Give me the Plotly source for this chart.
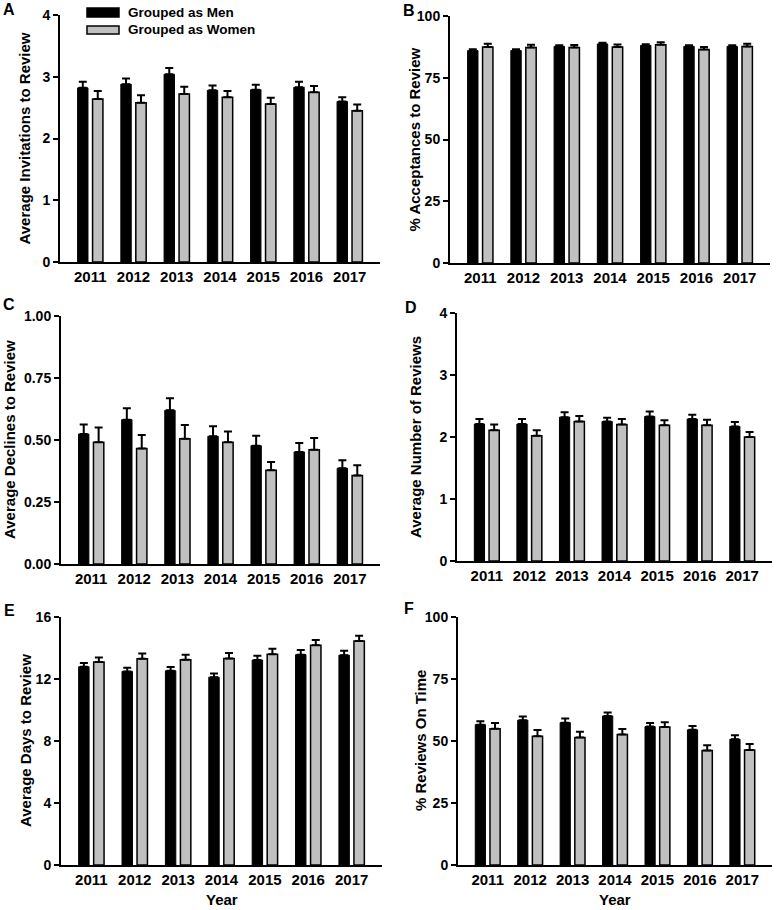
import plotly.graph_objects as go

years = ["2011", "2012", "2013", "2014", "2015", "2016", "2017"]

# A: Average invitations to review
inv_men = [2.82, 2.88, 3.04, 2.78, 2.79, 2.83, 2.60]
inv_men_err = [0.10, 0.09, 0.10, 0.08, 0.08, 0.09, 0.07]
inv_women = [2.64, 2.58, 2.72, 2.67, 2.56, 2.75, 2.45]
inv_women_err = [0.13, 0.12, 0.12, 0.10, 0.10, 0.10, 0.10]

# B: % acceptances to review
acc_men = [86.0, 86.0, 87.7, 88.7, 88.1, 87.7, 87.7]
acc_men_err = [0.5, 0.5, 0.5, 0.5, 0.5, 0.5, 0.5]
acc_women = [87.5, 87.2, 87.2, 87.5, 88.4, 86.4, 87.7]
acc_women_err = [1.3, 1.2, 1.1, 1.0, 1.0, 1.0, 1.1]

# C: Average declines to review
dec_men = [0.524, 0.582, 0.620, 0.515, 0.477, 0.452, 0.386]
dec_men_err = [0.038, 0.046, 0.048, 0.040, 0.040, 0.036, 0.032]
dec_women = [0.491, 0.466, 0.505, 0.491, 0.378, 0.461, 0.357]
dec_women_err = [0.059, 0.054, 0.055, 0.043, 0.033, 0.047, 0.041]

# D: Average number of reviews
rev_men = [2.21, 2.21, 2.32, 2.25, 2.33, 2.29, 2.17]
rev_men_err = [0.08, 0.08, 0.08, 0.06, 0.08, 0.07, 0.07]
rev_women = [2.11, 2.02, 2.25, 2.20, 2.19, 2.19, 2.00]
rev_women_err = [0.09, 0.09, 0.09, 0.09, 0.08, 0.09, 0.08]

# E: Average days to review
days_men = [12.79, 12.49, 12.53, 12.12, 13.22, 13.57, 13.54]
days_men_err = [0.24, 0.24, 0.24, 0.24, 0.28, 0.30, 0.28]
days_women = [13.09, 13.31, 13.24, 13.33, 13.59, 14.17, 14.45]
days_women_err = [0.30, 0.34, 0.33, 0.34, 0.36, 0.34, 0.34]

# F: % reviews on time
ontime_men = [56.6, 58.4, 57.4, 60.1, 55.8, 54.5, 50.7]
ontime_men_err = [1.4, 1.5, 1.7, 1.4, 1.5, 1.5, 1.6]
ontime_women = [54.9, 51.9, 51.4, 52.6, 55.6, 46.2, 46.4]
ontime_women_err = [2.4, 2.5, 2.3, 2.2, 2.0, 2.1, 2.4]

series_names = ["Grouped as Men", "Grouped as Women"]
y_titles = ["Average Invitations to Review", "% Acceptances to Review",
            "Average Declines to Review", "Average Number of Reviews",
            "Average Days to Review", "% Reviews On Time"]
panel_letters = ["A", "B", "C", "D", "E", "F"]

W, H = 780, 910
FONT = "Liberation Sans, Arial, sans-serif"
GRAY = "#c0c0c0"

def px(x):
    return x / W

def py(y):
    return 1 - y / H

panels = [
    dict(men=inv_men, men_err=inv_men_err, women=inv_women, women_err=inv_women_err,
         yrange=[0, 4], dtick=1, fmt="", xpix=(60, 380), ypix=(15, 262),
         tx=24, letter=(9, 10)),
    dict(men=acc_men, men_err=acc_men_err, women=acc_women, women_err=acc_women_err,
         yrange=[0, 100], dtick=25, fmt="", xpix=(450, 770), ypix=(16, 263),
         tx=414, letter=(409, 11)),
    dict(men=dec_men, men_err=dec_men_err, women=dec_women, women_err=dec_women_err,
         yrange=[0, 1], dtick=0.25, fmt=".2f", xpix=(61, 380), ypix=(316, 564),
         tx=9, letter=(9, 305)),
    dict(men=rev_men, men_err=rev_men_err, women=rev_women, women_err=rev_women_err,
         yrange=[0, 4], dtick=1, fmt="", xpix=(457, 772), ypix=(313, 561),
         tx=415, letter=(411, 307)),
    dict(men=days_men, men_err=days_men_err, women=days_women, women_err=days_women_err,
         yrange=[0, 16], dtick=4, fmt="", xpix=(61, 382), ypix=(617, 865),
         tx=25, letter=(9, 610)),
    dict(men=ontime_men, men_err=ontime_men_err, women=ontime_women, women_err=ontime_women_err,
         yrange=[0, 100], dtick=25, fmt="", xpix=(458, 772), ypix=(617, 865),
         tx=420, letter=(409, 608)),
]

fig = go.Figure()
annotations = []
layout = {}
xpos = list(range(len(years)))
BW = 0.24
SEP = 0.173

for i, p in enumerate(panels):
    n = i + 1
    xa = "x" if n == 1 else f"x{n}"
    ya = "y" if n == 1 else f"y{n}"
    for vals, errs, color, lw, off, name in [
        (p["men"], p["men_err"], "black", 1, -SEP - BW / 2, series_names[0]),
        (p["women"], p["women_err"], GRAY, 1.5, SEP - BW / 2, series_names[1]),
    ]:
        fig.add_trace(go.Bar(
            x=xpos, y=vals, width=BW, offset=off, name=name,
            marker=dict(color=color, line=dict(color="black", width=lw)),
            error_y=dict(type="data", symmetric=False, array=errs,
                         arrayminus=[0] * len(errs), color="black",
                         thickness=2, width=4),
            xaxis=xa, yaxis=ya, showlegend=False,
        ))
    x0, x1 = p["xpix"]
    y0, y1 = p["ypix"]
    layout[f"xaxis{'' if n == 1 else n}"] = dict(
        domain=[px(x0), px(x1)], anchor=ya, range=[-0.7, 6.7],
        tickvals=xpos, ticktext=years, ticks="", showline=True,
        linecolor="black", linewidth=2, showgrid=False, zeroline=False,
        tickfont=dict(family=FONT, size=15, color="black", weight="bold"),
        fixedrange=True, automargin=False,
    )
    layout[f"yaxis{'' if n == 1 else n}"] = dict(
        domain=[py(y1), py(y0)], anchor=xa, range=p["yrange"], dtick=p["dtick"],
        tick0=0, tickformat=p["fmt"], ticks="outside", ticklen=5, tickwidth=2,
        tickcolor="black", showline=True, linecolor="black", linewidth=2,
        showgrid=False, zeroline=False,
        tickfont=dict(family=FONT, size=14, color="black", weight="bold"),
        fixedrange=True, automargin=False,
    )
    annotations.append(dict(
        text=y_titles[i], x=px(p["tx"]), y=py((y0 + y1) / 2), xref="paper",
        yref="paper", showarrow=False, textangle=-90, xanchor="center",
        yanchor="middle", font=dict(family=FONT, size=15, color="black", weight="bold"),
    ))
    lx, ly = p["letter"]
    annotations.append(dict(
        text=panel_letters[i], x=px(lx), y=py(ly), xref="paper", yref="paper",
        showarrow=False, xanchor="center", yanchor="middle",
        font=dict(family=FONT, size=16, color="black", weight="bold"),
    ))

# x-axis "Year" titles for bottom panels
for cx in [(61 + 382) / 2, (458 + 772) / 2]:
    annotations.append(dict(
        text="Year", x=px(cx), y=py(899), xref="paper", yref="paper",
        showarrow=False, xanchor="center", yanchor="middle",
        font=dict(family=FONT, size=15, color="black", weight="bold"),
    ))

# custom legend (panel A)
shapes = []
for k, (color, ytop, ybot, ytext) in enumerate([("black", 8, 17, 12.5), (GRAY, 26, 34, 30)]):
    shapes.append(dict(type="rect", xref="paper", yref="paper",
                       x0=px(87), x1=px(119), y0=py(ybot), y1=py(ytop),
                       fillcolor=color, line=dict(color="black", width=1.5)))
    annotations.append(dict(
        text=series_names[k], x=px(126), y=py(ytext), xref="paper", yref="paper",
        showarrow=False, xanchor="left", yanchor="middle",
        font=dict(family=FONT, size=13.5, color="black", weight="bold"),
    ))

fig.update_layout(
    width=W, height=H, autosize=False, margin=dict(l=0, r=0, t=0, b=0, pad=0),
    paper_bgcolor="white", plot_bgcolor="white", barmode="overlay",
    annotations=annotations, shapes=shapes, **layout,
)

fig.write_html(
    "out.html",
    config={"displayModeBar": False, "responsive": False},
    post_script="document.body.style.margin='0';document.body.style.overflow='hidden';",
)
